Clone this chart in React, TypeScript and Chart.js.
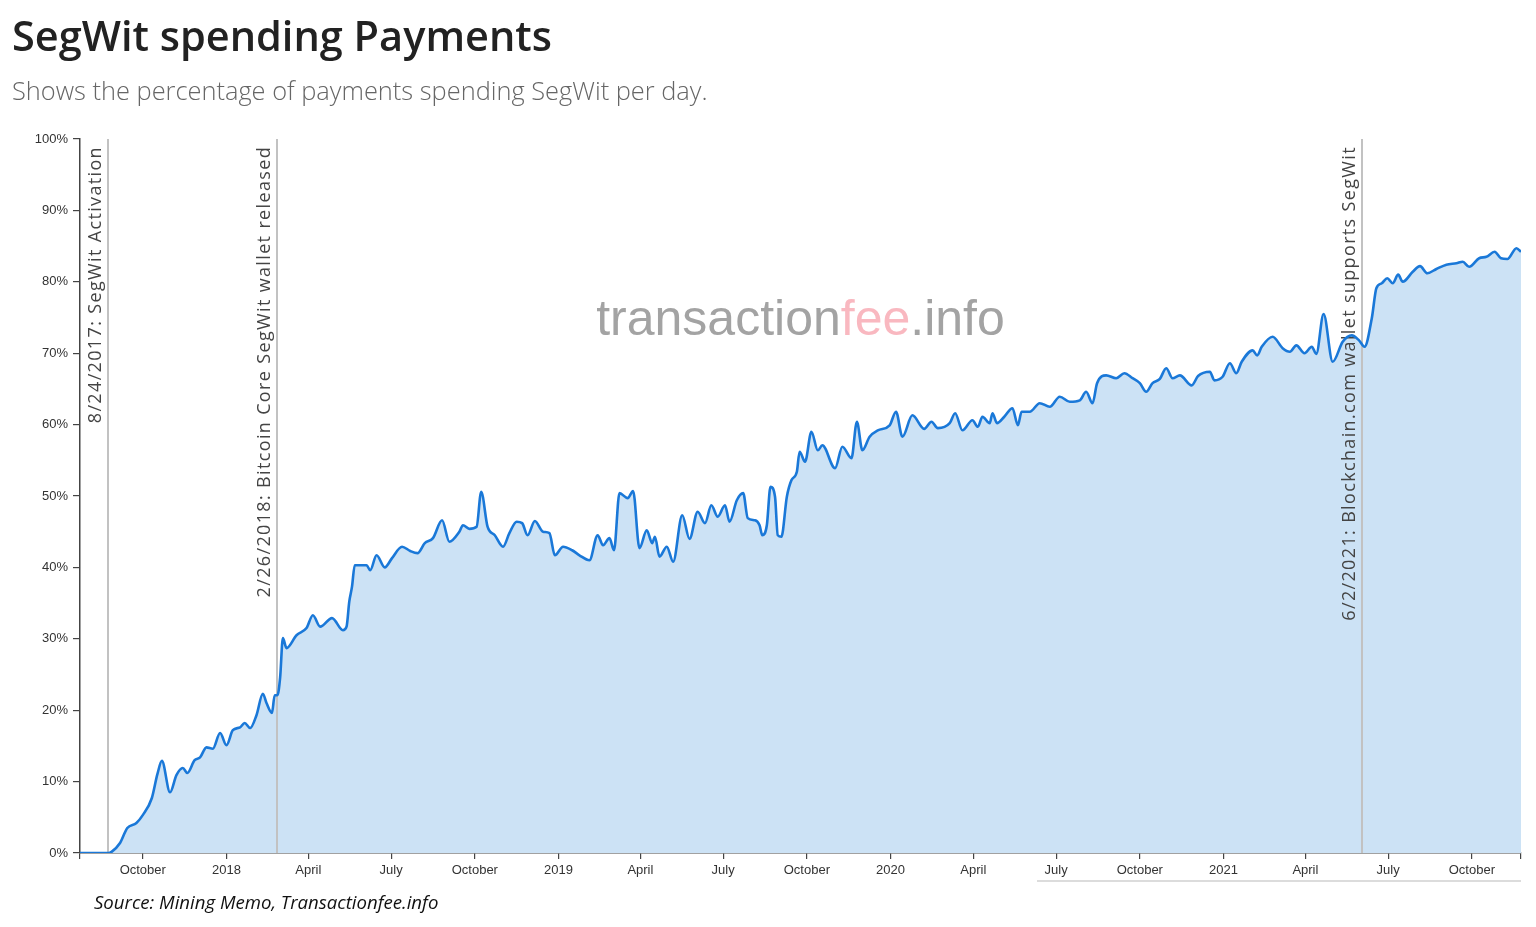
import React, { useEffect, useRef } from "react";
import { Chart, registerables } from "chart.js";

Chart.register(...registerables);

// Day 0 of the x axis is the SegWit activation date.
const ORIGIN_DATE = "2017-08-24";
const X_START_DATE = "2017-07-24";
const X_END_DATE = "2021-11-24";

// Days since activation for each sampled point.
const dayOffsets = [
  -31, 0, 4, 13, 21, 31, 38, 48, 54, 59, 68, 75, 82, 87, 95, 101, 108, 115, 123, 130,
  137, 145, 150, 156, 163, 170, 174, 180, 183, 186, 189, 192, 196, 207, 218, 225, 233, 246, 258, 262,
  265, 268, 271, 284, 288, 295, 304, 312, 323, 332, 340, 348, 357, 367, 375, 386, 390, 397, 405, 410,
  417, 425, 434, 441, 449, 455, 461, 469, 478, 485, 491, 500, 510, 518, 529, 538, 544, 551, 556, 562,
  571, 577, 584, 592, 598, 601, 606, 614, 621, 631, 639, 648, 656, 663, 670, 678, 683, 691, 698, 703,
  711, 716, 719, 724, 728, 733, 736, 740, 746, 751, 757, 760, 766, 773, 780, 785, 799, 807, 817, 823,
  829, 837, 846, 859, 866, 873, 884, 897, 905, 912, 925, 931, 939, 950, 956, 961, 969, 972, 977, 985,
  994, 1000, 1004, 1013, 1024, 1035, 1046, 1057, 1068, 1075, 1082, 1087, 1097, 1108, 1117, 1126, 1134, 1141, 1148, 1156,
  1163, 1170, 1178, 1191, 1198, 1211, 1216, 1225, 1233, 1240, 1246, 1258, 1263, 1268, 1280, 1291, 1299, 1306, 1315, 1323,
  1328, 1336, 1346, 1357, 1367, 1375, 1381, 1389, 1394, 1400, 1406, 1412, 1418, 1423, 1434, 1442, 1450, 1460, 1471, 1482,
  1489, 1496, 1507, 1515, 1524, 1531, 1538, 1548, 1553,
];

// Share of payments spending SegWit (%), one per entry of dayOffsets.
const segwitShare = [
  0, 0, 0.2, 1.4, 3.5, 4.2, 5.3, 7.7, 11.0, 12.9, 8.5, 10.9, 11.9, 11.2, 13.0, 13.4, 14.8, 14.6, 16.8, 15.1,
  17.2, 17.6, 18.2, 17.5, 19.3, 22.3, 21.0, 19.6, 22.1, 22.1, 24.6, 30.1, 28.7, 30.5, 31.5, 33.3, 31.7, 32.9, 31.2, 31.7,
  35.2, 37.3, 40.3, 40.3, 39.6, 41.7, 40.0, 41.3, 42.9, 42.3, 42.0, 43.4, 44.1, 46.6, 43.6, 45.0, 45.9, 45.4, 45.7, 50.6,
  45.7, 44.5, 42.9, 44.8, 46.4, 46.2, 44.5, 46.5, 45.0, 44.8, 41.7, 42.9, 42.4, 41.7, 41.0, 44.5, 43.1, 44.1, 42.4, 50.4,
  49.7, 50.7, 42.7, 45.2, 43.4, 44.3, 41.5, 42.9, 40.8, 47.3, 44.0, 47.8, 46.2, 48.7, 47.1, 48.7, 46.4, 49.4, 50.4, 46.9,
  46.6, 45.9, 44.5, 45.9, 51.3, 49.9, 44.5, 44.3, 49.9, 52.2, 53.4, 56.2, 54.8, 59.0, 56.4, 57.1, 53.9, 56.9, 55.3, 60.4,
  56.4, 58.3, 59.2, 59.9, 61.8, 58.3, 61.3, 59.4, 60.4, 59.5, 60.2, 61.6, 59.2, 60.6, 59.7, 61.1, 60.2, 61.6, 60.2, 61.1,
  62.3, 59.9, 61.8, 61.8, 63.0, 62.5, 63.9, 63.2, 63.4, 64.6, 63.0, 65.8, 66.9, 66.5, 67.2, 66.5, 65.8, 64.6, 65.8, 66.4,
  67.9, 66.5, 66.9, 65.5, 66.8, 67.4, 66.2, 66.7, 68.6, 67.2, 68.8, 70.4, 69.7, 70.9, 72.3, 70.7, 70.2, 71.1, 70.0, 70.9,
  69.9, 75.5, 68.8, 71.6, 72.5, 71.8, 70.9, 74.9, 79.1, 79.8, 80.5, 79.8, 81.0, 80.0, 81.4, 82.2, 81.2, 81.8, 82.4, 82.6,
  82.8, 82.1, 83.3, 83.5, 84.2, 83.3, 83.2, 84.7, 84.2,
];

// Month ticks on the time axis.
const xTickDates = [
  "2017-10-01", "2018-01-01", "2018-04-01", "2018-07-01", "2018-10-01", "2019-01-01",
  "2019-04-01", "2019-07-01", "2019-10-01", "2020-01-01", "2020-04-01", "2020-07-01",
  "2020-10-01", "2021-01-01", "2021-04-01", "2021-07-01", "2021-10-01",
];
const xTickLabels = [
  "October", "2018", "April", "July", "October", "2019",
  "April", "July", "October", "2020", "April", "July",
  "October", "2021", "April", "July", "October",
];

// Marked events.
const eventDates = ["2017-08-24", "2018-02-26", "2021-06-02"];
const eventLabels = [
  "8/24/2017: SegWit Activation",
  "2/26/2018: Bitcoin Core SegWit wallet released",
  "6/2/2021: Blockchain.com wallet supports SegWit",
];

const DAY_MS = 86400000;
const dayOf = (iso: string) =>
  Math.round((Date.parse(iso) - Date.parse(ORIGIN_DATE)) / DAY_MS);

const TICK_FONT = { family: "'Liberation Sans', Arial, sans-serif", size: 13 };
const AXIS_COLOR = "#444";
const LINE_BLUE = "#1a78d8";
const AREA_BLUE = "#cce2f5";

const eventsPlugin = {
  id: "eventsAndBrand",
  beforeDatasetsDraw(chart: any) {
    const { ctx, chartArea } = chart;
    const cx = (chartArea.left + chartArea.right) / 2;
    const y = chartArea.top + 196;
    ctx.save();
    ctx.font = "50px 'Liberation Sans', Arial, sans-serif";
    ctx.textBaseline = "alphabetic";
    const parts = [
      { t: "transaction", c: "#a3a3a3" },
      { t: "fee", c: "#f9b8c0" },
      { t: ".info", c: "#a3a3a3" },
    ];
    const total = parts.reduce((s, p) => s + ctx.measureText(p.t).width, 0);
    let x = cx - total / 2;
    ctx.textAlign = "left";
    for (const p of parts) {
      ctx.fillStyle = p.c;
      ctx.fillText(p.t, x, y);
      x += ctx.measureText(p.t).width;
    }
    ctx.restore();
  },
  afterDatasetDraw(chart: any, args: any) {
    // Drawn right after the filled area, before the outline on top of it.
    if (args.index !== 1) return;
    const { ctx, chartArea, scales } = chart;
    ctx.save();
    eventDates.forEach((d, i) => {
      const x = Math.round(scales.x.getPixelForValue(dayOf(d)));
      ctx.strokeStyle = "#c2c2c2";
      ctx.lineWidth = 2;
      ctx.beginPath();
      ctx.moveTo(x, chartArea.top);
      ctx.lineTo(x, chartArea.bottom);
      ctx.stroke();
      ctx.save();
      ctx.translate(x - 7, chartArea.top + 7);
      ctx.rotate(-Math.PI / 2);
      ctx.font = "18px 'Open Sans', 'Noto Sans', sans-serif";
      (ctx as any).letterSpacing = "1.35px";
      ctx.fillStyle = "#444";
      ctx.textAlign = "right";
      ctx.textBaseline = "alphabetic";
      ctx.fillText(eventLabels[i], 0, 0);
      ctx.restore();
    });
    ctx.restore();
  },
};

export default function App() {
  const canvasRef = useRef<HTMLCanvasElement | null>(null);

  useEffect(() => {
    const canvas = canvasRef.current;
    if (!canvas) return;
    const points = dayOffsets.map((d, i) => ({ x: d, y: segwitShare[i] }));
    const xMin = dayOf(X_START_DATE);
    const xMax = dayOf(X_END_DATE);
    const tickDays = xTickDates.map(dayOf);

    const chart = new Chart(canvas, {
      type: "line",
      data: {
        datasets: [
          {
            label: "SegWit payments",
            data: points,
            borderColor: LINE_BLUE,
            borderWidth: 2.6,
            fill: false,
            pointRadius: 0,
            cubicInterpolationMode: "monotone",
          },
          {
            label: "SegWit payments area",
            data: points,
            borderWidth: 0,
            borderColor: "rgba(0,0,0,0)",
            backgroundColor: AREA_BLUE,
            fill: "origin",
            pointRadius: 0,
            cubicInterpolationMode: "monotone",
          },
        ],
      },
      options: {
        animation: false,
        responsive: false,
        maintainAspectRatio: false,
        events: [],
        layout: { padding: { top: 139, right: 15, bottom: 0, left: 0 } },
        plugins: {
          legend: { display: false },
          tooltip: { enabled: false },
        },
        scales: {
          x: {
            type: "linear",
            min: xMin,
            max: xMax,
            afterBuildTicks: (scale: any) => {
              scale.ticks = [xMin, ...tickDays, xMax].map((v) => ({ value: v }));
            },
            afterFit: (scale: any) => {
              scale.height = 74;
            },
            ticks: {
              autoSkip: false,
              maxRotation: 0,
              padding: 4,
              color: "#333",
              font: TICK_FONT,
              callback: (_v: any, i: number) =>
                i === 0 || i === tickDays.length + 1 ? "" : xTickLabels[i - 1],
            },
            grid: {
              drawOnChartArea: false,
              drawTicks: true,
              tickLength: 6,
              color: AXIS_COLOR,
              lineWidth: 1.2,
            },
            border: { display: true, color: AXIS_COLOR, width: 1.5 },
          },
          y: {
            min: 0,
            max: 100,
            afterFit: (scale: any) => {
              scale.width = 80;
            },
            ticks: {
              stepSize: 10,
              padding: 5,
              color: "#333",
              font: TICK_FONT,
              callback: (v: any) => `${v}%`,
            },
            grid: {
              drawOnChartArea: false,
              drawTicks: true,
              tickLength: 7,
              color: AXIS_COLOR,
              lineWidth: 1.2,
            },
            border: { display: true, color: AXIS_COLOR, width: 1.5 },
          },
        },
      },
      plugins: [eventsPlugin],
    } as any);

    return () => chart.destroy();
  }, []);

  return (
    <div
      style={{
        position: "absolute",
        left: 0,
        top: 0,
        width: 1536,
        height: 927,
        background: "#fff",
        overflow: "hidden",
      }}
    >
      <canvas
        ref={canvasRef}
        width={1536}
        height={927}
        style={{ position: "absolute", left: 0, top: 0, width: 1536, height: 927 }}
      />
      <div
        style={{
          position: "absolute",
          left: 12,
          top: 15,
          fontFamily: "'Open Sans', 'Noto Sans', sans-serif",
          fontWeight: 600,
          fontSize: 41.5,
          lineHeight: "41.5px",
          color: "#222",
          whiteSpace: "nowrap",
        }}
      >
        SegWit spending Payments
      </div>
      <div
        style={{
          position: "absolute",
          left: 12,
          top: 78,
          fontFamily: "'Open Sans', 'Noto Sans', sans-serif",
          fontWeight: 300,
          fontSize: 25.4,
          lineHeight: "25.4px",
          color: "#666",
          whiteSpace: "nowrap",
        }}
      >
        Shows the percentage of payments spending SegWit per day.
      </div>
      <div
        style={{
          position: "absolute",
          left: 94,
          top: 893,
          fontFamily: "'Open Sans', 'Noto Sans', sans-serif",
          fontStyle: "italic",
          fontSize: 18.6,
          lineHeight: "18.6px",
          color: "#111",
          whiteSpace: "nowrap",
        }}
      >
        Source: Mining Memo, Transactionfee.info
      </div>
      <div
        style={{
          position: "absolute",
          left: 1037,
          top: 880,
          width: 484,
          height: 2,
          background: "#dcdcdc",
        }}
      />
    </div>
  );
}
